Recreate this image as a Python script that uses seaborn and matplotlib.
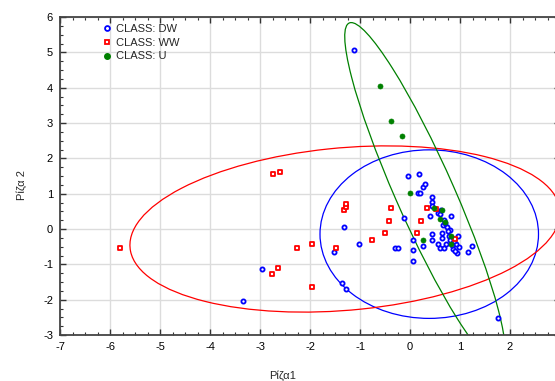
import numpy as np
import pandas as pd
import matplotlib
matplotlib.use("Agg")
import matplotlib.pyplot as plt
from matplotlib.patches import Ellipse
from matplotlib.lines import Line2D
from matplotlib.ticker import MultipleLocator
import seaborn as sns

# root scores
dw_x = [-1.12, -3.34, -2.96, -1.32, -1.02, -1.53, -1.37, -1.28, -0.31, -0.25, 1.75,
        -0.12, 0.05, 0.05, 0.05, 0.25, 1.15, 1.23, -0.04, 0.17, 0.25, 0.30, 0.15, 0.19,
        0.43, 0.43, 0.43, 0.39, 0.55, 0.60, 0.65, 0.67, 0.73, 0.81, 0.79, 0.77, 0.80,
        0.95, 0.43, 0.43, 0.64, 0.55, 0.59, 0.68, 0.71, 0.64, 0.85, 0.93, 0.97, 0.91,
        0.88, 0.75, 0.70, 0.84, 0.90, 0.62]
dw_y = [5.07, -2.03, -1.12, 0.06, -0.42, -0.66, -1.52, -1.69, -0.55, -0.55, -2.52,
        0.30, -0.30, -0.60, -0.90, -0.49, -0.66, -0.49, 1.51, 1.56, 1.20, 1.26, 1.02, 1.02,
        0.90, 0.77, 0.65, 0.36, 0.45, 0.43, 0.11, 0.26, 0.07, 0.36, -0.02, -0.19, -0.30,
        -0.19, -0.13, -0.30, -0.26, -0.42, -0.55, -0.55, -0.42, -0.11, -0.58, -0.68, -0.51, -0.43,
        -0.35, -0.05, 0.18, -0.45, -0.62, 0.55]
ww_x = [-5.80, -2.77, -2.65, -2.74, -2.60, -2.27, -1.96, -1.96, -1.49, -1.32, -1.28,
        -1.28, -0.76, -0.51, -0.43, -0.38, 0.13, 0.21, 0.34, 0.52, 0.90]
ww_y = [-0.53, -1.27, -1.09, 1.56, 1.61, -0.55, -0.42, -1.63, -0.55, 0.55, 0.62,
        0.71, -0.30, -0.11, 0.23, 0.60, -0.11, 0.23, 0.60, 0.58, -0.27]
u_x = [-0.60, -0.38, -0.16, 0.00, 0.48, 0.64, 0.60, 0.69, 0.81, 0.81, 0.25]
u_y = [4.05, 3.06, 2.63, 1.02, 0.60, 0.53, 0.28, 0.19, -0.19, -0.42, -0.30]

classes = ["DW", "WW", "U"]
colors = {"DW": "#0000ff", "WW": "#ff0000", "U": "#008000"}
x_ticks = [-7, -6, -5, -4, -3, -2, -1, 0, 1, 2]
y_ticks = [-3, -2, -1, 0, 1, 2, 3, 4, 5, 6]

# ellipse per class: centre x, centre y, width, height, angle
ell_cx = [0.385, -1.30, 0.30]
ell_cy = [-0.145, 0.00, 1.00]
ell_w = [4.37, 8.67, 10.13]
ell_h = [4.77, 4.58, 1.21]
ell_ang = [0, 8.4, -72.8]

df = pd.DataFrame({
    "r1": dw_x + ww_x + u_x,
    "r2": dw_y + ww_y + u_y,
    "CLASS": ["DW"] * len(dw_x) + ["WW"] * len(ww_x) + ["U"] * len(u_x),
})

sns.set_style("ticks")
plt.rcParams["font.family"] = ["Liberation Sans", "DejaVu Sans"]
plt.rcParams["axes.unicode_minus"] = False

fig = plt.figure(figsize=(5.55, 3.81), dpi=100)
ax = fig.add_axes([60 / 555, 46 / 381, 500 / 555, 318 / 381])

for i, c in enumerate(classes):
    e = Ellipse((ell_cx[i], ell_cy[i]), ell_w[i], ell_h[i], angle=ell_ang[i],
                fill=False, edgecolor=colors[c], linewidth=0.9, zorder=2)
    ax.add_patch(e)

sub = df[df.CLASS == "DW"]
sns.scatterplot(data=sub, x="r1", y="r2", marker="o", s=9, color=colors["DW"],
                facecolor="white", edgecolor=colors["DW"], linewidth=1.3, ax=ax, zorder=3)
sub = df[df.CLASS == "WW"]
sns.scatterplot(data=sub, x="r1", y="r2", marker="s", s=11, color=colors["WW"],
                facecolor="white", edgecolor=colors["WW"], linewidth=1.3, ax=ax, zorder=4)
sub = df[df.CLASS == "U"]
sns.scatterplot(data=sub, x="r1", y="r2", marker="o", s=13, color=colors["U"],
                edgecolor=colors["U"], linewidth=0.5, ax=ax, zorder=5)

ax.set_xlim(-7, 3)
ax.set_ylim(-3, 6)
ax.set_xticks(x_ticks)
ax.set_yticks(y_ticks)
ax.xaxis.set_minor_locator(MultipleLocator(0.25))
ax.yaxis.set_minor_locator(MultipleLocator(0.25))
ax.grid(True, which="major", color="#dcdcdc", linewidth=1.0)
ax.set_axisbelow(True)
ax.tick_params(which="both", direction="in", top=True, right=True, colors="#333333",
               labelcolor="black", labelsize=8)
ax.tick_params(which="major", length=4, width=1, pad=5)
ax.tick_params(which="minor", length=2.5, width=0.8)
for sp in ax.spines.values():
    sp.set_color("#444444")
    sp.set_linewidth(1.3)

ax.set_xlabel("Ρίζα1", fontsize=8)
ax.set_ylabel("Ρίζα 2", fontsize=8)
ax.xaxis.set_label_coords(0.446, -0.112)
ax.yaxis.set_label_coords(-0.066, 0.472)

handles = [
    Line2D([], [], linestyle="none", marker="o", markersize=3.5, markerfacecolor="white",
           markeredgecolor=colors["DW"], markeredgewidth=1.3),
    Line2D([], [], linestyle="none", marker="s", markersize=3.5, markerfacecolor="white",
           markeredgecolor=colors["WW"], markeredgewidth=1.3),
    Line2D([], [], linestyle="none", marker="o", markersize=4, markerfacecolor=colors["U"],
           markeredgecolor=colors["U"]),
]
ax.legend(handles, ["CLASS: " + c for c in classes], loc="upper left",
          bbox_to_anchor=(0.07, 1.0), frameon=False, fontsize=8, handlelength=1,
          handletextpad=0.3, labelspacing=0.35, borderaxespad=0.2)

plt.savefig("out.png", dpi=100)
